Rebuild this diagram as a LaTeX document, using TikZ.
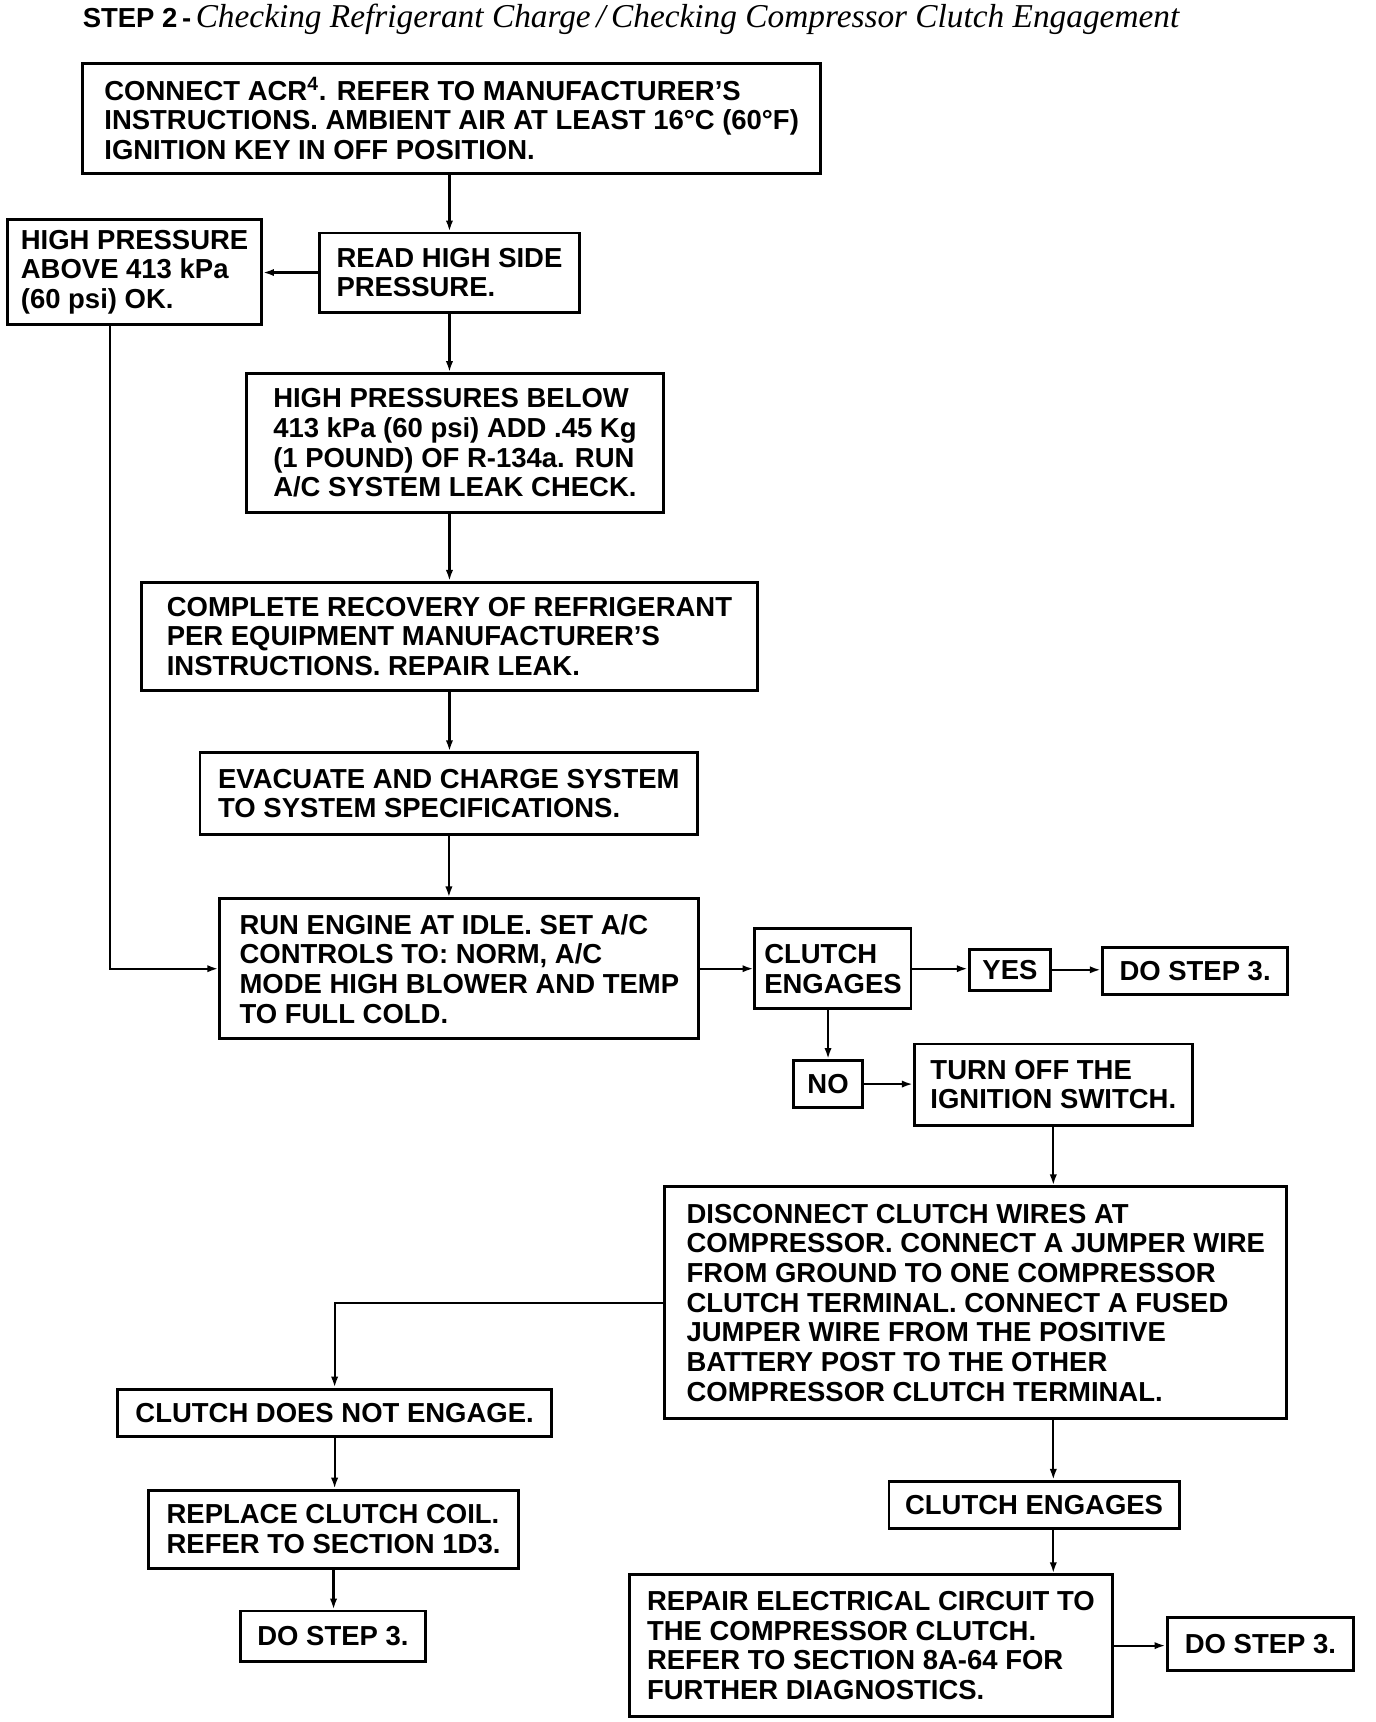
\documentclass[tikz,border=0pt]{standalone}
\usepackage{fontspec}
\setmainfont{Liberation Sans}
\newfontfamily\ttlserif{Liberation Serif}
\usetikzlibrary{arrows.meta}
\begin{document}
\begin{tikzpicture}[x=0.6pt,y=-0.6pt,
  box/.style={draw, line width=1.6pt, align=left, inner sep=0pt,
    font=\bfseries\fontsize{15}{16.2}\selectfont},
  arr/.style={line width=1.2pt, -{Latex[length=6pt,width=4pt]}},
  ttl/.style={anchor=west, inner sep=0pt}]
\useasboundingbox (0,0) rectangle (1252,1567);

\node[ttl] (title) at (75,18) {\bfseries\fontsize{15}{18}\selectfont STEP 2\,-\,{\ttlserif\itshape\mdseries\fontsize{18.2}{20}\selectfont Checking Refrigerant Charge\,/\,Checking Compressor Clutch Engagement}};

\node[box, minimum width=403.2pt, minimum height=60pt] (A) at (411,108)
  {CONNECT ACR\textsuperscript{4}. REFER TO MANUFACTURER'S\\INSTRUCTIONS. AMBIENT AIR AT LEAST 16°C (60°F)\\IGNITION KEY IN OFF POSITION.};
\node[box, minimum width=141.6pt, minimum height=43.2pt] (B) at (409,248)
  {READ HIGH SIDE\\PRESSURE.};
\node[box, minimum width=138.6pt, minimum height=57pt] (C) at (122.5,247.5)
  {HIGH PRESSURE\\ABOVE 413 kPa\\(60 psi) OK.};
\node[box, minimum width=228pt, minimum height=75.6pt] (D) at (414,403)
  {HIGH PRESSURES BELOW\\413 kPa (60 psi) ADD .45 Kg\\(1 POUND) OF R-134a. RUN\\A/C SYSTEM LEAK CHECK.};
\node[box, minimum width=336pt, minimum height=58.8pt] (E) at (409,579)
  {COMPLETE RECOVERY OF REFRIGERANT\\PER EQUIPMENT MANUFACTURER'S\\INSTRUCTIONS. REPAIR LEAK.};
\node[box, minimum width=271.8pt, minimum height=44.4pt] (E2) at (408.5,722)
  {EVACUATE AND CHARGE SYSTEM\\TO SYSTEM SPECIFICATIONS.};
\node[box, minimum width=261.6pt, minimum height=76.2pt] (F) at (418,881.5)
  {RUN ENGINE AT IDLE. SET A/C\\CONTROLS TO: NORM, A/C\\MODE HIGH BLOWER AND TEMP\\TO FULL COLD.};
\node[box, minimum width=85.2pt, minimum height=43.8pt] (G) at (758,881.5)
  {CLUTCH\\ENGAGES};
\node[box, minimum width=44.4pt, minimum height=22.2pt] (YES) at (919,882.5) {YES};
\node[box, minimum width=101.4pt, minimum height=25.8pt] (DOa) at (1087.5,883.5) {DO STEP 3.};
\node[box, minimum width=37.8pt, minimum height=25.8pt] (NO) at (753.5,986.5) {NO};
\node[box, minimum width=151.8pt, minimum height=44.4pt] (H) at (958.5,987)
  {TURN OFF THE\\IGNITION SWITCH.};
\node[box, minimum width=339.6pt, minimum height=126.6pt] (I) at (888,1185.5)
  {DISCONNECT CLUTCH WIRES AT\\COMPRESSOR. CONNECT A JUMPER WIRE\\FROM GROUND TO ONE COMPRESSOR\\CLUTCH TERMINAL. CONNECT A FUSED\\JUMPER WIRE FROM THE POSITIVE\\BATTERY POST TO THE OTHER\\COMPRESSOR CLUTCH TERMINAL.};
\node[box, minimum width=237pt, minimum height=25.8pt] (J) at (304.5,1285.5)
  {CLUTCH DOES NOT ENGAGE.};
\node[box, minimum width=202.2pt, minimum height=42.6pt] (K) at (303.5,1391.5)
  {REPLACE CLUTCH COIL.\\REFER TO SECTION 1D3.};
\node[box, minimum width=100.8pt, minimum height=27.6pt] (L) at (303,1489) {DO STEP 3.};
\node[box, minimum width=158.4pt, minimum height=25.8pt] (M) at (941,1369.5) {CLUTCH ENGAGES};
\node[box, minimum width=263.4pt, minimum height=77.4pt] (N) at (792.5,1497.5)
  {REPAIR ELECTRICAL CIRCUIT TO\\THE COMPRESSOR CLUTCH.\\REFER TO SECTION 8A-64 FOR\\FURTHER DIAGNOSTICS.};
\node[box, minimum width=102pt, minimum height=28.8pt] (O) at (1147,1496) {DO STEP 3.};

\draw[arr] (A.south -| B.north) -- (B.north);
\draw[arr] (B.west) -- (B.west -| C.east);
\draw[arr] ([xshift=-13.5pt]C.south) |- (F.west);
\draw[arr] (B.south) -- (B.south |- D.north);
\draw[arr] (D.south -| E.north) -- (E.north);
\draw[arr] (E.south) -- (E.south |- E2.north);
\draw[arr] (E2.south) -- (E2.south |- F.north);
\draw[arr] (F.east) -- (F.east -| G.west);
\draw[arr] (G.east) -- (G.east -| YES.west);
\draw[arr] (YES.east) -- (YES.east -| DOa.west);
\draw[arr] (G.south -| NO.north) -- (NO.north);
\draw[arr] (NO.east) -- (NO.east -| H.west);
\draw[arr] (H.south) -- (H.south |- I.north);
\draw[arr] (I.west) -| (J.north);
\draw[arr] (J.south) -- (J.south |- K.north);
\draw[arr] (K.south) -- (K.south |- L.north);
\draw[arr] (I.south -| H.south) -- (M.north -| H.south);
\draw[arr] (M.south -| H.south) -- (N.north -| H.south);
\draw[arr] (N.east) -- (N.east -| O.west);
\end{tikzpicture}
\end{document}
